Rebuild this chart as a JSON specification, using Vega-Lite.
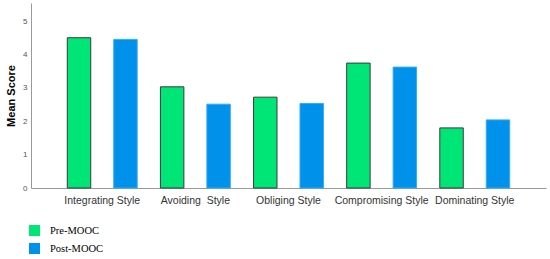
{
  "$schema": "https://vega.github.io/schema/vega-lite/v6.json",
  "autosize": "none",
  "width": 515,
  "height": 185,
  "padding": {"left": 31, "top": 3, "right": 4, "bottom": 71},
  "background": "white",
  "data": {
    "values": [
      {"style": "Integrating Style", "group": "Pre-MOOC", "score": 4.5},
      {"style": "Integrating Style", "group": "Post-MOOC", "score": 4.45},
      {"style": "Avoiding\u00a0 Style", "group": "Pre-MOOC", "score": 3.03},
      {"style": "Avoiding\u00a0 Style", "group": "Post-MOOC", "score": 2.51},
      {"style": "Obliging Style", "group": "Pre-MOOC", "score": 2.72},
      {"style": "Obliging Style", "group": "Post-MOOC", "score": 2.53},
      {"style": "Compromising Style", "group": "Pre-MOOC", "score": 3.74},
      {"style": "Compromising Style", "group": "Post-MOOC", "score": 3.62},
      {"style": "Dominating Style", "group": "Pre-MOOC", "score": 1.8},
      {"style": "Dominating Style", "group": "Post-MOOC", "score": 2.04}
    ]
  },
  "mark": {"type": "bar", "strokeWidth": 1},
  "encoding": {
    "x": {
      "field": "style",
      "type": "nominal",
      "sort": null,
      "scale": {"paddingInner": 0, "paddingOuter": 0.265},
      "axis": {
        "title": null,
        "labelAngle": 0,
        "labelFont": "Liberation Sans",
        "labelFontSize": 10.5,
        "labelColor": "#333",
        "labelPadding": 7,
        "ticks": false,
        "domainColor": "#999",
        "grid": false
      }
    },
    "xOffset": {
      "field": "group",
      "type": "nominal",
      "sort": ["Pre-MOOC", "Post-MOOC"],
      "scale": {"paddingInner": 0.495, "paddingOuter": 0.25}
    },
    "y": {
      "field": "score",
      "type": "quantitative",
      "scale": {"domain": [0, 5.54], "nice": false},
      "axis": {
        "title": "Mean Score",
        "titleFont": "Liberation Sans",
        "titleFontSize": 11,
        "titleFontWeight": "bold",
        "titleColor": "#000",
        "titlePadding": 6,
        "values": [0, 1, 2, 3, 4, 5],
        "labelFont": "Liberation Sans",
        "labelFontSize": 8,
        "labelColor": "#555",
        "labelPadding": 4,
        "ticks": false,
        "grid": false,
        "domainColor": "#999"
      }
    },
    "fill": {
      "field": "group",
      "type": "nominal",
      "sort": ["Pre-MOOC", "Post-MOOC"],
      "scale": {"domain": ["Pre-MOOC", "Post-MOOC"], "range": ["#00E676", "#0091EA"]},
      "legend": {
        "title": null,
        "orient": "none",
        "legendX": -2,
        "legendY": 222,
        "padding": 0,
        "symbolType": "square",
        "symbolSize": 121,
        "symbolStrokeWidth": 0,
        "labelFont": "Liberation Serif",
        "labelFontSize": 10.5,
        "labelColor": "#000",
        "labelOffset": 10,
        "rowPadding": 7
      }
    },
    "stroke": {
      "field": "group",
      "type": "nominal",
      "scale": {"domain": ["Pre-MOOC", "Post-MOOC"], "range": ["#3a3a3a", "#35aaf5"]},
      "legend": null
    }
  },
  "config": {"view": {"stroke": null}}
}
